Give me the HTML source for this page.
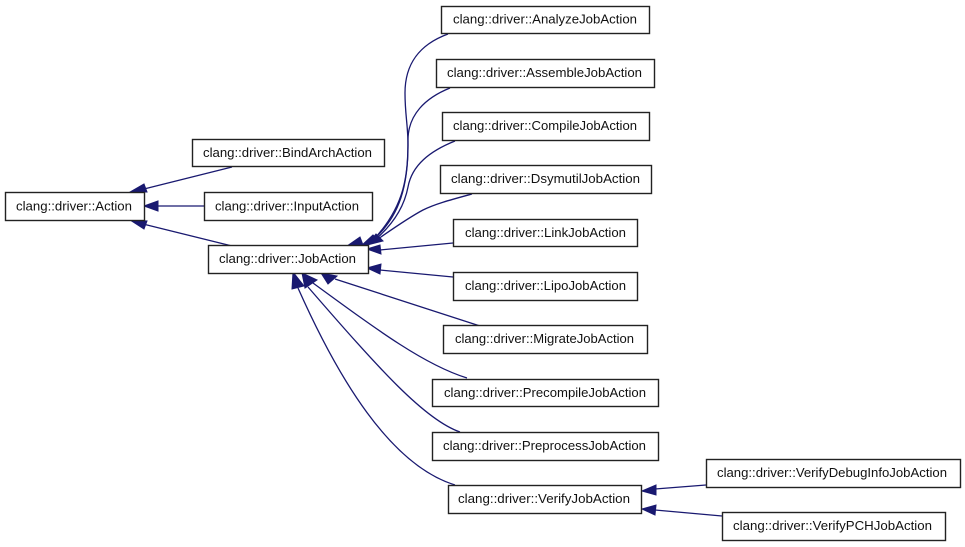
<!DOCTYPE html>
<html><head><meta charset="utf-8"><style>html,body{margin:0;padding:0;background:#fff}svg{display:block}
text{font-family:"Liberation Sans",sans-serif;font-size:13.33px;fill:#111}
rect{fill:#fff;stroke:#222;stroke-width:1.4}
.e{fill:none;stroke:#191970;stroke-width:1.3}
.a{fill:#191970;stroke:#191970;stroke-width:1}
</style></head><body>
<svg width="965" height="547" viewBox="0 0 965 547" xmlns="http://www.w3.org/2000/svg">
<path class="e" d="M232,167L144,189"/>
<path class="e" d="M204,206L158,206"/>
<path class="e" d="M232,246L143,224"/>
<path class="e" d="M448,34C418,45 405,65 405,93C405,115 408,125 408,145C408,185 400,215 375,238"/>
<path class="e" d="M450,88C425,98 408,115 408,140C408,175 405,205 375,238"/>
<path class="e" d="M455,141C430,151 412,165 408,187C404,208 392,225 376,239"/>
<path class="e" d="M472,194C450,200 435,204 423,210C408,218 394,228 378,239"/>
<path class="e" d="M453,243L380,250"/>
<path class="e" d="M453,277L380,270"/>
<path class="e" d="M480,326L335,279"/>
<path class="e" d="M467,378C425,365 380,332 313,283"/>
<path class="e" d="M460,432C425,420 380,370 308,287"/>
<path class="e" d="M455,485C390,465 338,378 298,288"/>
<path class="e" d="M706,485L655,489"/>
<path class="e" d="M722,516L655,510"/>
<polygon class="a" points="130,192 144,184 147,192"/>
<polygon class="a" points="144,206 158,201 158,211"/>
<polygon class="a" points="130,220 144,229 147,221"/>
<polygon class="a" points="347,246 360,237 363,245"/>
<polygon class="a" points="361,246 373,235 379,241"/>
<polygon class="a" points="367,245 376,234 383,241"/>
<polygon class="a" points="367,249 380,245 381,254"/>
<polygon class="a" points="367,268 381,264 380,274"/>
<polygon class="a" points="321,273 337,276 328,284"/>
<polygon class="a" points="302,273 317,280 305,288"/>
<polygon class="a" points="293,272 304,286 292,289"/>
<polygon class="a" points="642,491 656,485 656,495"/>
<polygon class="a" points="642,509 656,505 655,515"/>
<rect x="5.5" y="192.5" width="139" height="28"/><text x="16" y="210.5" textLength="116" lengthAdjust="spacingAndGlyphs">clang::driver::Action</text>
<rect x="192.5" y="139.5" width="192" height="27"/><text x="203" y="157" textLength="169" lengthAdjust="spacingAndGlyphs">clang::driver::BindArchAction</text>
<rect x="204.5" y="192.5" width="168" height="28"/><text x="215" y="210.5" textLength="144" lengthAdjust="spacingAndGlyphs">clang::driver::InputAction</text>
<rect x="208.5" y="245.5" width="160" height="28"/><text x="219" y="263" textLength="137" lengthAdjust="spacingAndGlyphs">clang::driver::JobAction</text>
<rect x="441.5" y="6.5" width="208" height="27"/><text x="453" y="23.5" textLength="184" lengthAdjust="spacingAndGlyphs">clang::driver::AnalyzeJobAction</text>
<rect x="436.5" y="59.5" width="218" height="28"/><text x="447" y="77" textLength="195" lengthAdjust="spacingAndGlyphs">clang::driver::AssembleJobAction</text>
<rect x="442.5" y="112.5" width="207" height="28"/><text x="453" y="130" textLength="184" lengthAdjust="spacingAndGlyphs">clang::driver::CompileJobAction</text>
<rect x="440.5" y="165.5" width="211" height="28"/><text x="451" y="183" textLength="189" lengthAdjust="spacingAndGlyphs">clang::driver::DsymutilJobAction</text>
<rect x="453.5" y="219.5" width="184" height="27"/><text x="465" y="237" textLength="161" lengthAdjust="spacingAndGlyphs">clang::driver::LinkJobAction</text>
<rect x="453.5" y="272.5" width="184" height="28"/><text x="465" y="290" textLength="161" lengthAdjust="spacingAndGlyphs">clang::driver::LipoJobAction</text>
<rect x="443.5" y="325.5" width="204" height="28"/><text x="455" y="343" textLength="179" lengthAdjust="spacingAndGlyphs">clang::driver::MigrateJobAction</text>
<rect x="432.5" y="379.5" width="226" height="27"/><text x="444" y="397" textLength="202" lengthAdjust="spacingAndGlyphs">clang::driver::PrecompileJobAction</text>
<rect x="432.5" y="432.5" width="226" height="28"/><text x="443" y="450" textLength="203" lengthAdjust="spacingAndGlyphs">clang::driver::PreprocessJobAction</text>
<rect x="448.5" y="485.5" width="193" height="28"/><text x="458" y="503" textLength="172" lengthAdjust="spacingAndGlyphs">clang::driver::VerifyJobAction</text>
<rect x="706.5" y="459.5" width="254" height="28"/><text x="717" y="477" textLength="230" lengthAdjust="spacingAndGlyphs">clang::driver::VerifyDebugInfoJobAction</text>
<rect x="722.5" y="512.5" width="223" height="28"/><text x="733" y="530" textLength="199" lengthAdjust="spacingAndGlyphs">clang::driver::VerifyPCHJobAction</text>
</svg>
</body></html>
